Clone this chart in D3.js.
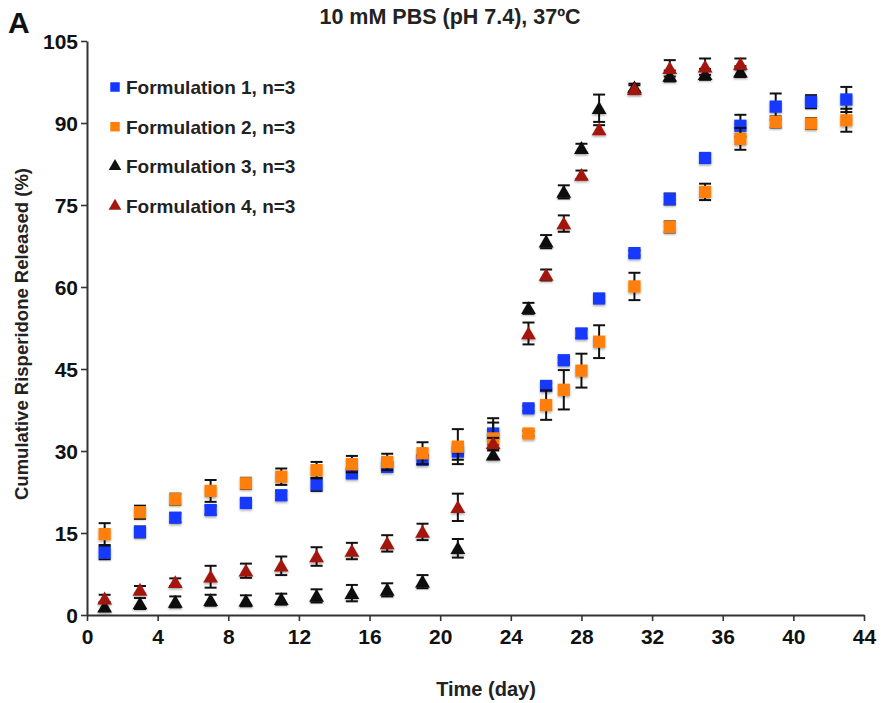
<!DOCTYPE html>
<html>
<head>
<meta charset="utf-8">
<script src="https://cdn.jsdelivr.net/npm/d3@7"></script>
<style>
  body { margin: 0; background: #fff; }
  text { font-family: "Liberation Sans", Arial, sans-serif; font-weight: bold; }
</style>
</head>
<body>
<div id="chart"></div>
<script>
// days sampled
const daysLong = [1, 3, 5, 7, 9, 11, 13, 15, 17, 19, 21, 23, 25, 26, 27, 28, 29, 31, 33, 35, 37, 39, 41, 43];
const daysShort = [1, 3, 5, 7, 9, 11, 13, 15, 17, 19, 21, 23, 25, 26, 27, 28, 29, 31, 33, 35, 37];

const f1Mean = [11.4, 15.2, 17.8, 19.2, 20.5, 21.9, 23.9, 25.9, 27.1, 28.4, 29.9, 33.2, 37.8, 41.9, 46.6, 51.5, 57.9, 66.2, 76.1, 83.6, 89.5, 93.0, 93.9, 94.3];
const f1Err  = [1.2, 1.0, 0.8, 0.8, 0.6, 0.8, 1.2, 0.8, 0.8, 0.8, 1.5, 2.0, 0.5, 0.5, 0.5, 0.8, 0.5, 0.5, 1.0, 0.7, 2.0, 2.4, 1.2, 2.3];

const f2Mean = [14.8, 18.8, 21.2, 22.7, 24.1, 25.3, 26.5, 27.6, 28.0, 29.6, 30.8, 32.3, 33.2, 38.4, 41.2, 44.7, 50.0, 60.1, 71.0, 77.4, 87.1, 90.2, 89.9, 90.5];
const f2Err  = [2.0, 1.2, 1.0, 2.0, 1.0, 1.5, 1.5, 1.5, 1.5, 2.0, 3.2, 3.7, 0.5, 2.7, 3.6, 3.1, 3.0, 2.5, 1.0, 1.5, 2.0, 1.0, 1.0, 2.1];

const f3Mean = [1.5, 2.1, 2.4, 2.7, 2.6, 2.9, 3.5, 4.0, 4.6, 6.1, 12.2, 29.3, 56.1, 68.3, 77.4, 85.4, 92.7, 96.5, 98.6, 98.9, 99.4];
const f3Err  = [0.8, 1.0, 1.0, 1.0, 1.0, 1.0, 1.2, 1.5, 1.2, 1.2, 1.7, 0.8, 1.0, 1.2, 1.2, 0.8, 2.5, 0.7, 1.0, 1.0, 1.0];

const f4Mean = [3.0, 4.6, 6.0, 7.0, 8.1, 9.0, 10.7, 11.7, 13.1, 15.2, 19.7, 31.4, 51.5, 62.2, 71.6, 80.5, 88.8, 96.2, 100.0, 100.3, 100.8];
const f4Err  = [0.7, 0.7, 0.7, 2.0, 1.3, 1.7, 1.7, 1.5, 1.5, 1.5, 2.5, 1.0, 2.0, 1.0, 1.5, 0.8, 0.8, 0.7, 1.5, 1.5, 1.0];

const seriesNames = ['Formulation 1, n=3', 'Formulation 2, n=3', 'Formulation 3, n=3', 'Formulation 4, n=3'];
const seriesColors = ['#1238ff', '#ff7f0a', '#111111', '#a3170f'];
const seriesShapes = ['square', 'square', 'triangle', 'triangle'];

const xTicks = d3.range(0, 45, 4);
const yTicks = d3.range(0, 106, 15);

const width = 881, height = 703;
const margin = {left: 87, right: 17, top: 41, bottom: 88};

const svg = d3.select('#chart').append('svg')
  .attr('width', width)
  .attr('height', height);

const defs = svg.append('defs');
const shadow = defs.append('filter').attr('id', 'shadow')
  .attr('x', '-50%').attr('y', '-50%').attr('width', '200%').attr('height', '200%');
shadow.append('feDropShadow')
  .attr('dx', 0).attr('dy', 1.5).attr('stdDeviation', 1.2)
  .attr('flood-color', '#000').attr('flood-opacity', 0.35);

const x = d3.scaleLinear().domain([0, 44]).range([margin.left, width - margin.right]);
const y = d3.scaleLinear().domain([0, 105]).range([height - margin.bottom, margin.top]);

// axes
const xAxis = svg.append('g')
  .attr('transform', `translate(0,${y(0)})`)
  .call(d3.axisBottom(x).tickValues(xTicks).tickSize(6).tickPadding(8).tickSizeOuter(0));
const yAxis = svg.append('g')
  .attr('transform', `translate(${x(0)},0)`)
  .call(d3.axisLeft(y).tickValues(yTicks).tickSize(6).tickPadding(3).tickSizeOuter(0));

[xAxis, yAxis].forEach(a => {
  a.select('.domain').attr('stroke', '#333').attr('stroke-width', 2);
  a.selectAll('.tick line').attr('stroke', '#333').attr('stroke-width', 1.6);
  a.selectAll('.tick text')
    .attr('fill', '#111')
    .style('font-size', '21px')
    .style('font-family', '"Liberation Sans Narrow", "Liberation Sans", Arial, sans-serif')
    .style('font-weight', 'bold');
});
yAxis.selectAll('.tick text').attr('dy', '0.36em');

// titles
svg.append('text')
  .attr('x', 8).attr('y', 33)
  .style('font-size', '30px')
  .attr('fill', '#111')
  .text('A');

svg.append('text')
  .attr('x', 450).attr('y', 24)
  .attr('text-anchor', 'middle')
  .style('font-size', '21.5px')
  .attr('fill', '#222')
  .text('10 mM PBS (pH 7.4), 37ºC');

svg.append('text')
  .attr('x', 486).attr('y', 696)
  .attr('text-anchor', 'middle')
  .style('font-size', '20px')
  .attr('fill', '#222')
  .text('Time (day)');

svg.append('text')
  .attr('transform', `translate(28,${(y(0) + y(105)) / 2 + 6}) rotate(-90)`)
  .attr('text-anchor', 'middle')
  .style('font-size', '18.5px')
  .attr('fill', '#222')
  .text('Cumulative Risperidone Released (%)');

// data
const series = [
  {days: daysLong, mean: f1Mean, err: f1Err},
  {days: daysLong, mean: f2Mean, err: f2Err},
  {days: daysShort, mean: f3Mean, err: f3Err},
  {days: daysShort, mean: f4Mean, err: f4Err}
].map((s, i) => ({
  name: seriesNames[i],
  color: seriesColors[i],
  shape: seriesShapes[i],
  points: s.days.map((d, j) => ({day: d, value: s.mean[j], err: s.err[j]}))
}));

const sym = {
  square: d3.symbol().type(d3.symbolSquare).size(150),
  triangle: d3.symbol().type(d3.symbolTriangle).size(95)
};
const legendSym = {
  square: d3.symbol().type(d3.symbolSquare).size(90),
  triangle: d3.symbol().type(d3.symbolTriangle).size(70)
};

const cap = 6;
series.forEach(s => {
  const g = svg.append('g').attr('class', 'series');
  const eb = g.selectAll('.err').data(s.points).enter().append('g')
    .attr('stroke', '#111').attr('stroke-width', 2);
  eb.append('line')
    .attr('x1', d => x(d.day)).attr('x2', d => x(d.day))
    .attr('y1', d => y(d.value - d.err)).attr('y2', d => y(d.value + d.err));
  eb.append('line')
    .attr('x1', d => x(d.day) - cap).attr('x2', d => x(d.day) + cap)
    .attr('y1', d => y(d.value + d.err)).attr('y2', d => y(d.value + d.err));
  eb.append('line')
    .attr('x1', d => x(d.day) - cap).attr('x2', d => x(d.day) + cap)
    .attr('y1', d => y(d.value - d.err)).attr('y2', d => y(d.value - d.err));

  g.selectAll('.pt').data(s.points).enter().append('path')
    .attr('d', sym[s.shape])
    .attr('transform', d => `translate(${x(d.day)},${y(d.value) + (s.shape === 'triangle' ? 1.5 : 0)})`)
    .attr('fill', s.color)
    .attr('filter', 'url(#shadow)');
});

// legend
const legend = svg.append('g').attr('transform', 'translate(115,87)');
series.forEach((s, i) => {
  const row = legend.append('g').attr('transform', `translate(0,${i * 39.7})`);
  row.append('path')
    .attr('d', legendSym[s.shape])
    .attr('fill', s.color);
  row.append('text')
    .attr('x', 11).attr('y', 7)
    .style('font-size', '19px')
    .attr('fill', '#222')
    .text(s.name);
});
</script>
</body>
</html>
